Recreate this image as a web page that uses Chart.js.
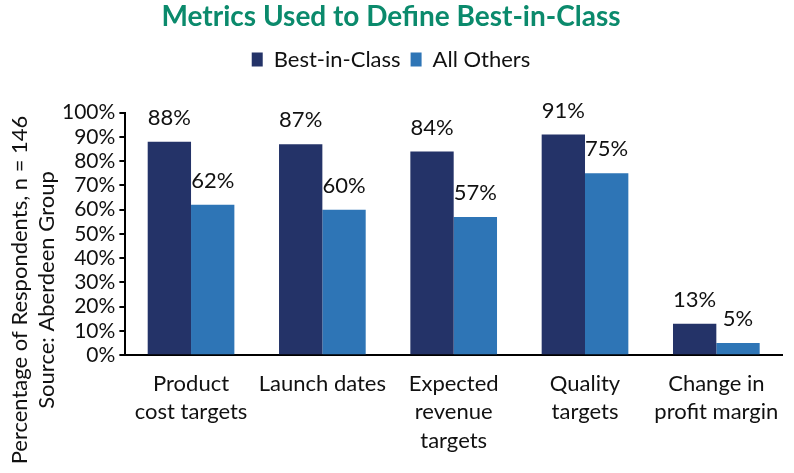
<!DOCTYPE html>
<html>
<head>
<meta charset="utf-8">
<script src="https://cdn.jsdelivr.net/npm/chart.js@4/dist/chart.umd.min.js"></script>
<style>
  html, body { margin: 0; padding: 0; background: #fff; }
  #wrap { width: 794px; height: 473px; }
</style>
</head>
<body>
<div id="wrap"><canvas id="chart" width="794" height="473"></canvas></div>
<script>
'use strict';

const categories = [
    ["Product", "cost targets"],
    ["Launch dates"],
    ["Expected", "revenue", "targets"],
    ["Quality", "targets"],
    ["Change in", "profit margin"]
];
const bestInClass = [88, 87, 84, 91, 13];
const allOthers = [62, 60, 57, 75, 5];
const seriesNames = ["Best-in-Class", "All Others"];
const yTitleLines = ["Percentage of Respondents, n = 146", "Source: Aberdeen Group"];

const FONT = "Lato, 'Noto Sans', sans-serif";
const TEXT_SIZE = 22;

// draws the "88%" style labels above each bar
const barLabels = {
    id: "barLabels",
    afterDatasetsDraw(chart) {
        const ctx = chart.ctx;
        ctx.save();
        ctx.font = TEXT_SIZE + "px " + FONT;
        ctx.fillStyle = "#111";
        ctx.textAlign = "center";
        ctx.textBaseline = "middle";
        chart.data.datasets.forEach((dataset, i) => {
            chart.getDatasetMeta(i).data.forEach((bar, j) => {
                ctx.fillText(dataset.data[j] + "%", bar.x, bar.y - 24);
            });
        });
        ctx.restore();
    }
};

// y axis title sits lower than the axis middle in the original, so draw it by hand
const yTitle = {
    id: "yTitle",
    afterDraw(chart) {
        const ctx = chart.ctx;
        ctx.save();
        ctx.font = TEXT_SIZE + "px " + FONT;
        ctx.fillStyle = "#111";
        ctx.textAlign = "center";
        ctx.textBaseline = "middle";
        ctx.translate(0, 290);
        ctx.rotate(-Math.PI / 2);
        yTitleLines.forEach((line, i) => ctx.fillText(line, 0, 20 + i * 27));
        ctx.restore();
    }
};

// extra room between the legend and the plot
const legendGap = {
    id: "legendGap",
    beforeInit(chart) {
        const fit = chart.legend.fit;
        chart.legend.fit = function () {
            fit.call(this);
            this.height += 32;
        };
    }
};

new Chart(document.getElementById("chart"), {
    type: "bar",
    data: {
        labels: categories,
        datasets: [
            { label: seriesNames[0], data: bestInClass, backgroundColor: "#243368" },
            { label: seriesNames[1], data: allOthers, backgroundColor: "#2E75B6" }
        ]
    },
    options: {
        responsive: false,
        animation: false,
        layout: { padding: { left: 0, right: 12, top: 0, bottom: 4 } },
        datasets: { bar: { categoryPercentage: 0.66, barPercentage: 1.0 } },
        plugins: {
            title: {
                display: true,
                text: "Metrics Used to Define Best-in-Class",
                color: "#0B8A6C",
                font: { family: FONT, size: 28, weight: "bold" },
                padding: { top: 0, bottom: 5 }
            },
            legend: {
                display: true,
                labels: {
                    color: "#111",
                    boxWidth: 11,
                    boxHeight: 14,
                    padding: 10,
                    font: { family: FONT, size: TEXT_SIZE }
                }
            },
            tooltip: { enabled: false }
        },
        scales: {
            x: {
                grid: { drawOnChartArea: false, drawTicks: false },
                border: { display: true, color: "#000", width: 2 },
                ticks: {
                    autoSkip: false,
                    color: "#111",
                    padding: 14,
                    maxRotation: 0,
                    font: { family: FONT, size: TEXT_SIZE, lineHeight: 1.3 }
                }
            },
            y: {
                min: 0,
                max: 100,
                afterFit(scale) { scale.width += 58; },
                grid: { drawOnChartArea: false, drawTicks: true, tickLength: 6, color: "#000", lineWidth: 2 },
                border: { display: true, color: "#000", width: 2 },
                ticks: {
                    autoSkip: false,
                    stepSize: 10,
                    color: "#111",
                    padding: 4,
                    font: { family: FONT, size: 21 },
                    callback: v => v + "%"
                }
            }
        }
    },
    plugins: [barLabels, yTitle, legendGap]
});
</script>
</body>
</html>
